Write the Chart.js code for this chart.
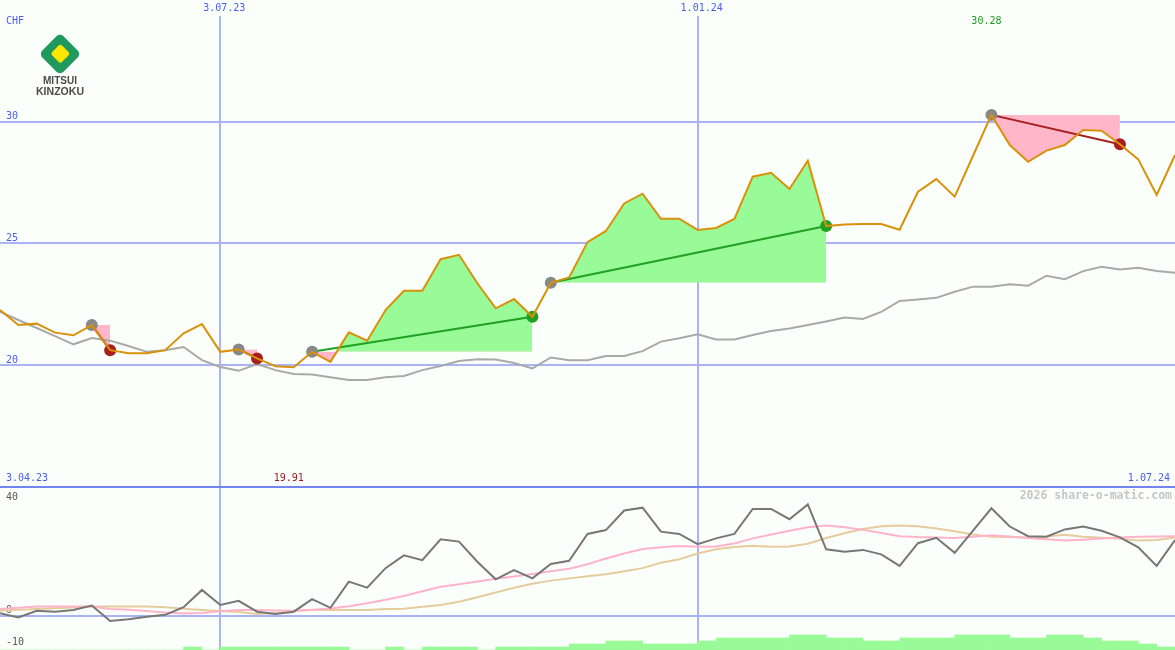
<!DOCTYPE html>
<html>
<head>
<meta charset="utf-8">
<title>Mitsui Kinzoku - CHF</title>
<script src="https://cdn.jsdelivr.net/npm/chart.js@4.4.1/dist/chart.umd.min.js"></script>
<style>
  html, body { margin: 0; padding: 0; background: #fbfffb; }
  #chart { display: block; background: #fbfffb; }
</style>
</head>
<body>
<canvas id="chart" width="1175" height="650"></canvas>
<script>
// weekly closes in CHF, index 0 = 10.04.23 ... index 64 = 1.07.24
const price = [22.26, 21.64, 21.70, 21.33, 21.22, 21.64, 20.61, 20.48, 20.48, 20.61,
  21.30, 21.68, 20.54, 20.64, 20.27, 19.95, 19.91, 20.54, 20.13, 21.34,
  21.00, 22.26, 23.05, 23.05, 24.35, 24.53, 23.36, 22.33, 22.71, 21.98,
  23.38, 23.60, 25.05, 25.51, 26.64, 27.04, 26.01, 26.01, 25.55, 25.63,
  26.00, 27.74, 27.90, 27.23, 28.40, 25.71, 25.77, 25.79, 25.79, 25.56,
  27.12, 27.64, 26.92, 28.60, 30.28, 29.04, 28.35, 28.81, 29.04, 29.66,
  29.63, 29.07, 28.45, 26.99, 28.63];

// moving average (grey line, top panel)
const avgLine = [22.19, 21.85, 21.52, 21.19, 20.85, 21.11, 21.00, 20.78, 20.54, 20.61,
  20.74, 20.20, 19.92, 19.76, 20.04, 19.79, 19.63, 19.61, 19.50, 19.38,
  19.38, 19.50, 19.55, 19.79, 19.96, 20.16, 20.24, 20.23, 20.08, 19.86,
  20.31, 20.20, 20.20, 20.37, 20.37, 20.57, 20.96, 21.10, 21.26, 21.05,
  21.05, 21.23, 21.40, 21.50, 21.64, 21.79, 21.95, 21.89, 22.18, 22.63,
  22.69, 22.76, 23.01, 23.22, 23.22, 23.32, 23.26, 23.67, 23.53, 23.86,
  24.04, 23.93, 24.00, 23.86, 23.79];

// lower panel indicator lines
const momentum = [0.7, -0.6, 1.5, 1.2, 1.7, 3.1, -1.7, -1.2, -0.4, 0.2,
  2.6, 8.0, 3.3, 4.6, 1.2, 0.5, 1.2, 5.1, 2.4, 10.6,
  8.7, 14.8, 18.8, 17.3, 23.8, 23.1, 16.8, 11.3, 14.2, 11.6,
  16.1, 17.1, 25.5, 26.7, 32.8, 33.7, 26.2, 25.5, 22.3, 24.1,
  25.5, 33.3, 33.3, 30.1, 34.7, 20.7, 19.9, 20.5, 19.1, 15.5,
  22.6, 24.3, 19.6, 26.5, 33.5, 27.8, 24.8, 24.6, 26.9, 27.8,
  26.5, 24.4, 21.3, 15.5, 23.6];
const momFast = [2.0, 2.4, 2.8, 2.8, 2.8, 2.8, 2.0, 1.8, 1.4, 0.9,
  0.6, 0.8, 1.3, 1.7, 1.7, 1.6, 1.5, 1.8, 2.2, 2.9,
  3.8, 4.9, 6.1, 7.6, 9.0, 9.8, 10.6, 11.5, 12.2, 13.0,
  13.8, 14.6, 16.0, 17.8, 19.4, 20.8, 21.3, 21.7, 21.5, 21.6,
  22.5, 24.1, 25.3, 26.5, 27.6, 28.1, 27.6, 26.8, 25.8, 24.8,
  24.5, 24.4, 24.2, 24.6, 25.1, 24.7, 24.2, 23.8, 23.4, 23.7,
  24.1, 24.4, 24.6, 24.7, 24.8];
const momSlow = [1.5, 1.8, 2.0, 2.3, 2.5, 2.8, 2.8, 2.8, 2.8, 2.6,
  2.1, 1.7, 1.4, 1.1, 0.5, 0.8, 1.5, 1.7, 1.7, 1.7,
  1.7, 2.0, 2.1, 2.7, 3.3, 4.3, 5.7, 7.2, 8.7, 9.9,
  10.9, 11.6, 12.3, 12.9, 13.8, 14.8, 16.5, 17.6, 19.4, 20.7,
  21.4, 21.8, 21.5, 21.6, 22.4, 24.2, 25.7, 27.0, 27.9, 28.1,
  27.9, 27.2, 26.3, 25.3, 24.6, 24.5, 24.4, 24.7, 25.2, 24.6,
  24.3, 24.0, 23.4, 23.6, 24.4];

// relative volume per week (interval k spans index k .. k+1)
const volume = [0, 0, 0, 0, 0, 0, 0, 0, 0, 0,
  1, 0, 1, 1, 1, 1, 1, 1, 1, 0,
  0, 1, 0, 1, 1, 1, 0, 1, 1, 1,
  1, 2, 2, 3, 3, 2, 2, 2, 3, 4,
  4, 4, 4, 5, 5, 4, 4, 3, 3, 4,
  4, 4, 5, 5, 5, 4, 4, 5, 5, 4,
  3, 3, 2, 1];

const gridWeeks = [12, 38];
const gridLabels = ["3.07.23", "1.01.24"];
const rangeLabels = ["3.04.23", "1.07.24"];
const priceTicks = [15, 20, 25, 30];
const momTicks = [-10, 0, 40];

// buy/sell signals (week index of entry and exit)
const signalIn = [5, 13, 17, 30, 54];
const signalOut = [6, 14, 29, 45, 61];
const lowIdx = 16;
const highIdx = 54;

const BLUE = "#4a5cf5";
const GRID = "#a9b3f5";
const SEP = "#7284ef";
const ORANGE = "#d9910a";
const GAIN = "#22a022";
const LOSS = "#a81e1e";
const MONO = '"DejaVu Sans Mono", "Liberation Mono", monospace';

const pts = (arr) => arr.map((v, i) => ({ x: i, y: v }));
const noPad = (s) => { s.paddingTop = 0; s.paddingBottom = 0; s.paddingLeft = 0; s.paddingRight = 0; };

const exitColors = signalOut.map((o, k) => price[o] >= price[signalIn[k]] ? GAIN : LOSS);

// lower order = drawn on top
const datasets = [];
datasets.push({ data: pts(price), borderColor: ORANGE, borderWidth: 2, order: 0 });
datasets.push({
  data: signalIn.map(i => ({ x: i, y: price[i] })),
  showLine: false, pointRadius: 6, pointBackgroundColor: "#888888", pointBorderWidth: 0, order: 1
});
datasets.push({
  data: signalOut.map(i => ({ x: i, y: price[i] })),
  showLine: false, pointRadius: 6, pointBackgroundColor: exitColors, pointBorderWidth: 0, order: 1
});
signalIn.forEach((a, k) => {
  const b = signalOut[k];
  datasets.push({
    data: [{ x: a, y: price[a] }, { x: b, y: price[b] }],
    borderColor: exitColors[k], borderWidth: 2, order: 2
  });
});
datasets.push({ data: pts(avgLine), borderColor: "#a9a9a9", borderWidth: 2, order: 3 });

// shaded area between price and entry level for each signal
signalIn.forEach((a, k) => {
  const b = signalOut[k];
  const seg = [], lvl = [];
  for (let i = a; i <= b; i++) {
    seg.push({ x: i, y: price[i] });
    lvl.push({ x: i, y: price[a] });
  }
  const lvlIndex = datasets.length + 1;
  datasets.push({
    data: seg, borderWidth: 0, borderColor: "rgba(0,0,0,0)",
    fill: { target: lvlIndex, above: "#98fb98", below: "#ffb6c8" }, order: 4
  });
  datasets.push({ data: lvl, borderWidth: 0, borderColor: "rgba(0,0,0,0)", fill: false, order: 5 });
});

datasets.push({ data: pts(momentum), yAxisID: "y2", borderColor: "#777777", borderWidth: 2, order: 6 });
datasets.push({ data: pts(momFast), yAxisID: "y2", borderColor: "#ffb3c9", borderWidth: 2, order: 7 });
datasets.push({ data: pts(momSlow), yAxisID: "y2", borderColor: "#e6cc9c", borderWidth: 2, order: 8 });
datasets.push({
  type: "bar", data: volume.map((v, k) => ({ x: k + 0.5, y: v })), yAxisID: "yv",
  backgroundColor: "#98fb98", borderWidth: 0, barPercentage: 1, categoryPercentage: 1, order: 10
});

function drawLogo(ctx) {
  ctx.save();
  ctx.translate(60, 54);
  ctx.rotate(Math.PI / 4);
  ctx.fillStyle = "#1f9a5c";
  ctx.beginPath();
  ctx.roundRect(-15, -15, 30, 30, 5);
  ctx.fill();
  ctx.fillStyle = "#ffe600";
  ctx.beginPath();
  ctx.roundRect(-7, -7.5, 14, 14, 2.5);
  ctx.fill();
  ctx.restore();
  ctx.save();
  ctx.fillStyle = "#4a4a4a";
  ctx.textAlign = "center";
  ctx.textBaseline = "middle";
  ctx.font = 'bold 11px "Liberation Sans Narrow", "Liberation Sans", Arial, sans-serif';
  ctx.fillText("MITSUI", 60, 81, 34);
  ctx.fillText("KINZOKU", 60, 92, 48);
  ctx.restore();
}

const overlay = {
  id: "overlay",
  afterDatasetsDraw(chart) {
    const { ctx } = chart;
    const x = chart.scales.x;
    const sep = chart.scales.y.getPixelForValue(15);
    ctx.save();
    ctx.font = "10px " + MONO;
    ctx.textBaseline = "middle";
    ctx.fillStyle = BLUE;
    ctx.textAlign = "left";
    ctx.fillText("CHF", 6, 21.5);
    ctx.fillText(rangeLabels[0], 6, sep - 8);
    ctx.textAlign = "right";
    ctx.fillText(rangeLabels[1], 1170, sep - 8);
    ctx.textAlign = "center";
    ctx.fillStyle = "#a01818";
    ctx.fillText(price[lowIdx].toFixed(2), x.getPixelForValue(lowIdx) - 5, sep - 8);
    ctx.fillStyle = "#1f9a1f";
    ctx.fillText(price[highIdx].toFixed(2), x.getPixelForValue(highIdx) - 5, 21.5);
    ctx.font = "bold 11.5px " + MONO;
    ctx.fillStyle = "#c6c6c6";
    ctx.textAlign = "right";
    ctx.fillText("2026 share-o-matic.com", 1172, sep + 9);
    ctx.restore();
    drawLogo(ctx);
  }
};

new Chart(document.getElementById("chart"), {
  type: "line",
  data: { datasets },
  plugins: [overlay],
  options: {
    responsive: false,
    devicePixelRatio: 1,
    animation: false,
    events: [],
    layout: { padding: 0, autoPadding: false },
    elements: { point: { radius: 0 }, line: { tension: 0 } },
    plugins: { legend: { display: false }, tooltip: { enabled: false } },
    scales: {
      x: {
        type: "linear", position: "top", min: 0, max: 64, offset: false,
        afterBuildTicks: (s) => { s.ticks = gridWeeks.map(v => ({ value: v })); },
        afterFit: (s) => { s.height = 16; noPad(s); },
        ticks: {
          autoSkip: false, maxRotation: 0, padding: 2, labelOffset: 4,
          color: BLUE, font: { family: MONO, size: 10 },
          callback: (v) => gridLabels[gridWeeks.indexOf(v)]
        },
        grid: { color: GRID, lineWidth: 2, drawTicks: false, offset: false },
        border: { display: false }
      },
      y: {
        position: "left", min: 8.286, max: 34.344,
        afterBuildTicks: (s) => { s.ticks = priceTicks.map(v => ({ value: v })); },
        afterFit: (s) => { s.width = 0; noPad(s); },
        ticks: {
          mirror: true, padding: 6, labelOffset: -5, color: BLUE,
          font: { family: MONO, size: 10 },
          callback: (v) => v === 15 ? "" : String(v)
        },
        grid: { color: (c) => c.tick && c.tick.value === 15 ? SEP : GRID, lineWidth: 2, drawTicks: false },
        border: { display: false }
      },
      y2: {
        position: "left", min: -10.78, max: 187.34,
        afterBuildTicks: (s) => { s.ticks = momTicks.map(v => ({ value: v })); },
        afterFit: (s) => { s.width = 0; noPad(s); },
        ticks: {
          mirror: true, padding: 6, labelOffset: -5, color: "#555555",
          font: { family: MONO, size: 10, lineHeight: 1.45 },
          callback: (v) => v === 40 ? ["", "", "40"] : String(v)
        },
        grid: {
          color: (c) => c.tick && c.tick.value === 0 ? GRID : "rgba(0,0,0,0)",
          lineWidth: 2, drawTicks: false
        },
        border: { display: false }
      },
      yv: { display: false, min: 0, max: 211.33, afterFit: noPad }
    }
  }
});
</script>
</body>
</html>
